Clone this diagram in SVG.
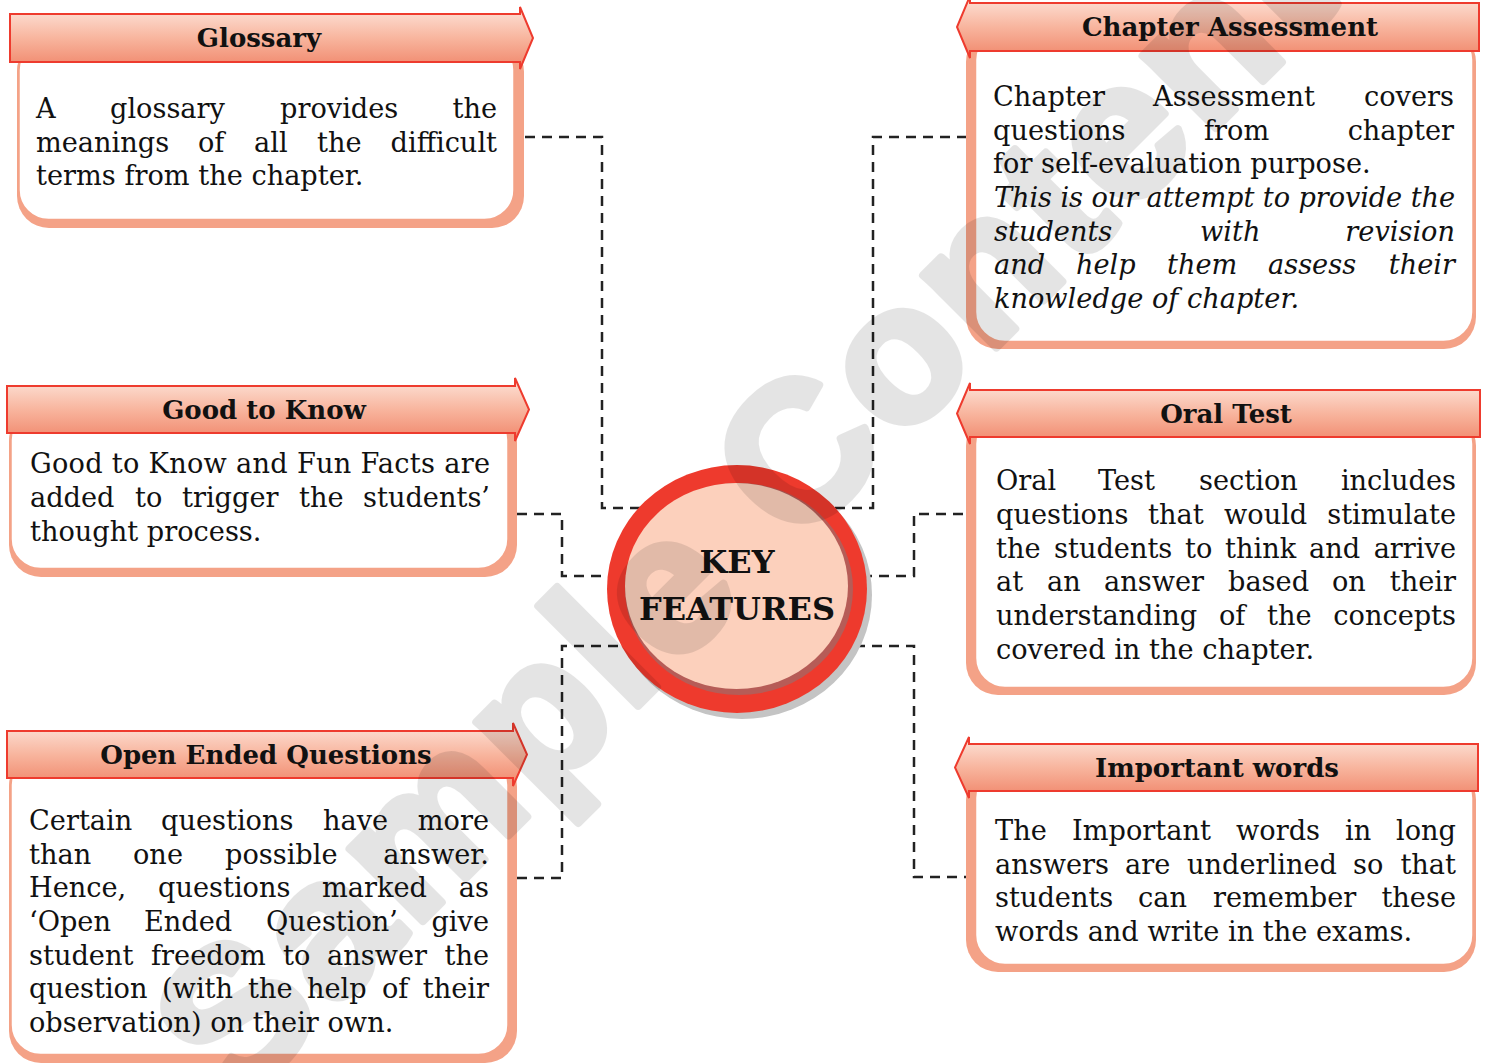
<svg xmlns="http://www.w3.org/2000/svg" width="1485" height="1063" viewBox="0 0 1485 1063">
<defs>
<linearGradient id="hdr" x1="0" y1="0" x2="0" y2="1">
<stop offset="0" stop-color="#fde4da"/>
<stop offset="0.5" stop-color="#f8b59e"/>
<stop offset="1" stop-color="#f0866a"/>
</linearGradient>
<style>
.hdr{fill:url(#hdr);stroke:#ee3b2e;stroke-width:2}
.sh{fill:#f4a287}
.bd{fill:#fff;stroke:#f4a287;stroke-width:2.5}
.ht{font-family:"DejaVu Serif",serif;font-weight:bold;font-size:26px;fill:#111;text-anchor:middle}
.t{font-family:"DejaVu Serif",serif;font-size:27.2px;fill:#111}
.e{text-anchor:end}
.i{font-style:italic}
.cn{fill:none;stroke:#222;stroke-width:2.5;stroke-dasharray:10 7}
.kf{font-family:"DejaVu Serif",serif;font-weight:bold;font-size:32px;fill:#111;text-anchor:middle}
.wm{font-family:"Liberation Sans",Arial,sans-serif;font-weight:bold;font-size:195px;letter-spacing:6px;fill:#000;stroke:#000;stroke-width:8;stroke-linejoin:round}
</style>
</defs>
<rect width="1485" height="1063" fill="#fff"/>
<g id="connectors">
<path class="cn" d="M525,137 H602 V508 H645"/>
<path class="cn" d="M967,137 H873 V508 H830"/>
<path class="cn" d="M517,514 H562 V576 H612"/>
<path class="cn" d="M862,576 H914 V514 H967"/>
<path class="cn" d="M517,878 H562 V646 H622"/>
<path class="cn" d="M855,646 H914 V877 H967"/>
</g>
<g id="glossary">
<rect class="sh" x="17" y="40" width="507" height="188" rx="32"/>
<rect class="bd" x="18.5" y="40" width="496" height="180" rx="30"/>
<path class="hdr" d="M10,14 H520 V7 L533,38 L520,69 V62 H10 Z"/>
<text class="ht" x="259" y="47">Glossary</text>
<text class="t" y="118"><tspan x="36">A</tspan><tspan x="110">glossary</tspan><tspan x="280">provides</tspan></text>
<text class="t e" x="497" y="118">the</text>
<text class="t" y="152"><tspan x="36">meanings</tspan><tspan x="198">of</tspan><tspan x="254">all</tspan><tspan x="317">the</tspan></text>
<text class="t e" x="497" y="152">difficult</text>
<text class="t" x="36" y="185">terms from the chapter.</text>
</g>
<g id="good-to-know">
<rect class="sh" x="9" y="410" width="508" height="167" rx="32"/>
<rect class="bd" x="10.5" y="410" width="498" height="159" rx="30"/>
<path class="hdr" d="M7,386 H515 V378 L529,409.5 L515,441 V433 H7 Z"/>
<text class="ht" x="264" y="419">Good to Know</text>
<text class="t" x="30" y="473" textLength="460" lengthAdjust="spacing">Good to Know and Fun Facts are</text>
<text class="t" y="507"><tspan x="30">added</tspan><tspan x="135">to</tspan><tspan x="182">trigger</tspan><tspan x="299">the</tspan></text>
<text class="t e" x="490" y="507">students’</text>
<text class="t" x="30" y="541">thought process.</text>
</g>
<g id="open-ended-questions">
<rect class="sh" x="9" y="755" width="508" height="308" rx="32"/>
<rect class="bd" x="10.5" y="755" width="498" height="300" rx="30"/>
<path class="hdr" d="M7,731 H513 V723 L527,754.5 L513,786 V778 H7 Z"/>
<text class="ht" x="266" y="764">Open Ended Questions</text>
<text class="t" y="830"><tspan x="29">Certain</tspan><tspan x="161">questions</tspan><tspan x="323">have</tspan></text>
<text class="t e" x="489" y="830">more</text>
<text class="t" y="864"><tspan x="29">than</tspan><tspan x="133">one</tspan><tspan x="225">possible</tspan></text>
<text class="t e" x="489" y="864">answer.</text>
<text class="t" y="897"><tspan x="29">Hence,</tspan><tspan x="158">questions</tspan><tspan x="322">marked</tspan></text>
<text class="t e" x="489" y="897">as</text>
<text class="t" y="931"><tspan x="29">‘Open</tspan><tspan x="144">Ended</tspan><tspan x="266">Question’</tspan></text>
<text class="t e" x="489" y="931">give</text>
<text class="t" y="965"><tspan x="29">student</tspan><tspan x="151">freedom</tspan><tspan x="283">to</tspan><tspan x="327">answer</tspan></text>
<text class="t e" x="489" y="965">the</text>
<text class="t" y="998"><tspan x="29">question</tspan><tspan x="162">(with</tspan><tspan x="248">the</tspan><tspan x="307">help</tspan><tspan x="382">of</tspan></text>
<text class="t e" x="489" y="998">their</text>
<text class="t" x="29" y="1032">observation) on their own.</text>
</g>
<g id="chapter-assessment">
<rect class="sh" x="966" y="30" width="510" height="319" rx="32"/>
<rect class="bd" x="975" y="30" width="498.5" height="312" rx="30"/>
<path class="hdr" d="M1479,3 V51 H970 V58 L957,27 L970,-4 V3 Z"/>
<text class="ht" x="1230" y="36">Chapter Assessment</text>
<text class="t" y="106"><tspan x="993">Chapter</tspan><tspan x="1153">Assessment</tspan></text>
<text class="t e" x="1454" y="106">covers</text>
<text class="t" y="140"><tspan x="993">questions</tspan><tspan x="1204">from</tspan></text>
<text class="t e" x="1454" y="140">chapter</text>
<text class="t" x="993" y="173">for self-evaluation purpose.</text>
<text class="t i" x="994" y="207" textLength="461" lengthAdjust="spacing">This is our attempt to provide the</text>
<text class="t i" y="241"><tspan x="994">students</tspan><tspan x="1200">with</tspan></text>
<text class="t i e" x="1455" y="241">revision</text>
<text class="t i" y="274"><tspan x="994">and</tspan><tspan x="1076">help</tspan><tspan x="1167">them</tspan><tspan x="1268">assess</tspan></text>
<text class="t i e" x="1455" y="274">their</text>
<text class="t i" x="994" y="308">knowledge of chapter.</text>
</g>
<g id="oral-test">
<rect class="sh" x="966" y="414" width="510" height="281" rx="32"/>
<rect class="bd" x="975" y="414" width="498.5" height="274" rx="30"/>
<path class="hdr" d="M1480,390 V437 H970 V444 L957,413.5 L970,383 V390 Z"/>
<text class="ht" x="1226" y="423">Oral Test</text>
<text class="t" y="490"><tspan x="996">Oral</tspan><tspan x="1098">Test</tspan><tspan x="1199">section</tspan></text>
<text class="t e" x="1456" y="490">includes</text>
<text class="t" y="524"><tspan x="996">questions</tspan><tspan x="1148">that</tspan><tspan x="1224">would</tspan></text>
<text class="t e" x="1456" y="524">stimulate</text>
<text class="t" y="558"><tspan x="996">the</tspan><tspan x="1054">students</tspan><tspan x="1185">to</tspan><tspan x="1225">think</tspan><tspan x="1309">and</tspan></text>
<text class="t e" x="1456" y="558">arrive</text>
<text class="t" y="591"><tspan x="996">at</tspan><tspan x="1047">an</tspan><tspan x="1104">answer</tspan><tspan x="1228">based</tspan><tspan x="1332">on</tspan></text>
<text class="t e" x="1456" y="591">their</text>
<text class="t" y="625"><tspan x="996">understanding</tspan><tspan x="1219">of</tspan><tspan x="1267">the</tspan></text>
<text class="t e" x="1456" y="625">concepts</text>
<text class="t" x="996" y="659">covered in the chapter.</text>
</g>
<g id="important-words">
<rect class="sh" x="966" y="768" width="510" height="204" rx="32"/>
<rect class="bd" x="975" y="768" width="498.5" height="197" rx="30"/>
<path class="hdr" d="M1478,744 V791 H969 V798 L955,767.5 L969,737 V744 Z"/>
<text class="ht" x="1217" y="777">Important words</text>
<text class="t" y="840"><tspan x="995">The</tspan><tspan x="1072">Important</tspan><tspan x="1236">words</tspan><tspan x="1345">in</tspan></text>
<text class="t e" x="1456" y="840">long</text>
<text class="t" y="874"><tspan x="995">answers</tspan><tspan x="1125">are</tspan><tspan x="1187">underlined</tspan><tspan x="1353">so</tspan></text>
<text class="t e" x="1456" y="874">that</text>
<text class="t" y="907"><tspan x="995">students</tspan><tspan x="1138">can</tspan><tspan x="1213">remember</tspan></text>
<text class="t e" x="1456" y="907">these</text>
<text class="t" x="995" y="941">words and write in the exams.</text>
</g>
<g id="key-features">
<ellipse cx="742" cy="595" rx="130" ry="124" fill="#c4c4c4"/>
<ellipse cx="737" cy="589" rx="130" ry="124" fill="#ee3a2d"/>
<ellipse cx="739" cy="589" rx="114" ry="106" fill="#b65c57"/>
<ellipse cx="736.5" cy="586" rx="111.5" ry="103" fill="#fcd0bc"/>
<text class="kf" x="737" y="573">KEY</text>
<text class="kf" x="737" y="620">FEATURES</text>
</g>
<g opacity="0.1">
<text class="wm" transform="translate(236,1108) rotate(-45)">Sample Content</text>
</g>
</svg>
